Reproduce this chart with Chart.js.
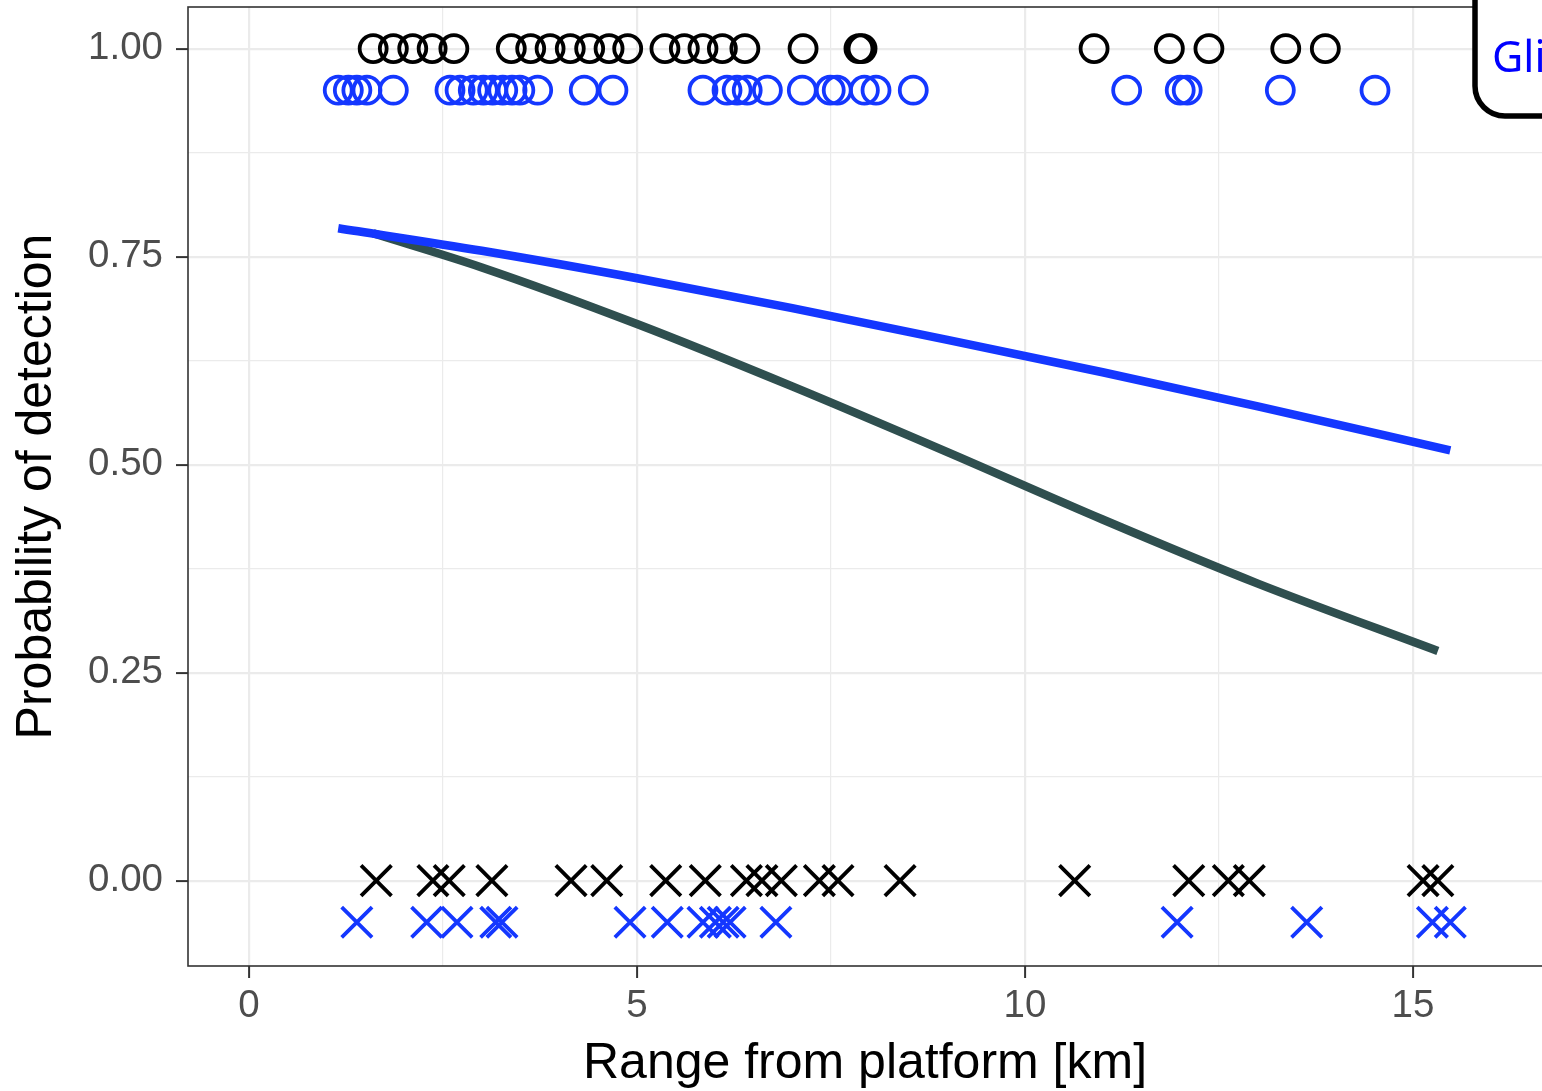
<!DOCTYPE html>
<html>
<head>
<meta charset="utf-8">
<script src="https://cdn.jsdelivr.net/npm/chart.js@4/dist/chart.umd.min.js"></script>
<style>
html,body{margin:0;padding:0;background:#fff;overflow:hidden}
#wrap{width:1542px;height:1091px;position:relative}
</style>
</head>
<body>
<div id="wrap"><canvas id="c" width="1542" height="1091"></canvas></div>
<script>
// ---- data ----
// Platform A (black): detected (1) and missed (0) ranges, km
const platformDetectedX = [1.60, 1.86, 2.11, 2.36, 2.64, 3.38, 3.63, 3.88, 4.14, 4.39, 4.64, 4.88, 5.36, 5.61, 5.85, 6.10, 6.39, 7.14, 7.86, 7.90, 10.89, 11.86, 12.37, 13.36, 13.87];
const platformMissedX   = [1.64, 2.37, 2.58, 3.13, 4.15, 4.61, 5.37, 5.88, 6.41, 6.61, 6.86, 7.35, 7.59, 8.39, 10.64, 12.11, 12.62, 12.89, 15.13, 15.32];
// Glider (blue): detected and missed ranges, km
const gliderDetectedX = [1.15, 1.28, 1.39, 1.52, 1.86, 2.59, 2.72, 2.89, 3.02, 3.14, 3.27, 3.39, 3.49, 3.72, 4.32, 4.69, 5.85, 6.16, 6.29, 6.42, 6.68, 7.13, 7.49, 7.58, 7.93, 8.08, 8.56, 11.31, 12.00, 12.09, 13.29, 14.51];
const gliderMissedX   = [1.39, 2.29, 2.68, 3.18, 3.26, 4.91, 5.39, 5.85, 6.01, 6.11, 6.20, 6.79, 11.96, 13.63, 15.25, 15.48];
// Row levels (detected = 1, missed = 0; glider rows drawn 0.05 lower)
const platformDetectedY = 1.00, platformMissedY = 0.00;
const gliderDetectedY = 0.95, gliderMissedY = -0.05;
// Fitted curves
const platformCurveX = [1.6, 3, 5, 7, 9, 11, 13, 15.32];
const platformCurveY = [0.778, 0.737, 0.669, 0.594, 0.515, 0.434, 0.357, 0.276];
const gliderCurveX = [1.15, 3, 5, 7, 9, 11, 13, 15.48];
const gliderCurveY = [0.784, 0.757, 0.724, 0.688, 0.650, 0.611, 0.570, 0.517];
// Axes
const xMajorTicks = [0, 5, 10, 15];
const xTickLabels = ['0', '5', '10', '15'];
const xMinorTicks = [2.5, 7.5, 12.5];
const yMajorTicks = [0, 0.25, 0.5, 0.75, 1];
const yTickLabels = ['0.00', '0.25', '0.50', '0.75', '1.00'];
const yMinorTicks = [0.125, 0.375, 0.625, 0.875];
const xTitle = 'Range from platform [km]';
const yTitle = 'Probability of detection';
const legendLabel = 'Glider';

// ---- styling ----
const BLACK = '#000000';
const BLUE = '#1437ff';
const DARK = '#2f4f4f';
const tickFont = {family: '"Liberation Sans", Arial, sans-serif', size: 38.5, lineHeight: 1.2};
const titleFont = {family: '"Liberation Sans", Arial, sans-serif', size: 50, lineHeight: 1.0};

const pts = (xs, y) => xs.map(x => ({x: x, y: y}));
const curve = (xs, ys) => xs.map((x, i) => ({x: x, y: ys[i]}));
const near = (a, b) => Math.abs(a - b) < 1e-6;
const isMajor = (list, v) => list.some(m => near(m, v));

const circleStyle = (c) => ({type: 'scatter', showLine: false, pointStyle: 'circle', pointRadius: 13.5, pointHoverRadius: 13.5, pointBorderWidth: 3.8, pointBorderColor: c, pointBackgroundColor: 'rgba(0,0,0,0)'});
const crossStyle = (c) => ({type: 'scatter', showLine: false, pointStyle: 'crossRot', pointRadius: 21.5, pointHoverRadius: 21.5, pointBorderWidth: 3.8, pointBorderColor: c, pointBackgroundColor: c});

const panelPlugin = {
  id: 'panel',
  afterDatasetsDraw(chart) {
    const a = chart.chartArea, ctx = chart.ctx;
    ctx.save();
    ctx.strokeStyle = '#333333';
    ctx.lineWidth = 1.6;
    ctx.strokeRect(a.left, a.top, a.right - a.left + 20, a.bottom - a.top);
    ctx.restore();
  },
  afterDraw(chart) {
    const ctx = chart.ctx;
    ctx.save();
    const x = 1475, y = -60, w = 240, h = 176, r = 30;
    ctx.beginPath();
    ctx.moveTo(x + r, y);
    ctx.lineTo(x + w, y);
    ctx.lineTo(x + w, y + h);
    ctx.lineTo(x + r, y + h);
    ctx.arcTo(x, y + h, x, y + h - r, r);
    ctx.lineTo(x, y);
    ctx.closePath();
    ctx.fillStyle = '#ffffff';
    ctx.fill();
    ctx.lineWidth = 5.5;
    ctx.strokeStyle = '#000000';
    ctx.stroke();
    ctx.fillStyle = '#0000ff';
    ctx.font = '43px "Noto Sans", sans-serif';
    ctx.textBaseline = 'alphabetic';
    ctx.fillText(legendLabel, 1492, 72);
    ctx.restore();
  }
};

new Chart(document.getElementById('c'), {
  data: {
    datasets: [
      Object.assign({label: 'Platform detected', data: pts(platformDetectedX, platformDetectedY)}, circleStyle(BLACK)),
      Object.assign({label: 'Glider detected', data: pts(gliderDetectedX, gliderDetectedY)}, circleStyle(BLUE)),
      Object.assign({label: 'Platform missed', data: pts(platformMissedX, platformMissedY)}, crossStyle(BLACK)),
      Object.assign({label: 'Glider missed', data: pts(gliderMissedX, gliderMissedY)}, crossStyle(BLUE)),
      {type: 'line', label: 'Glider fit', data: curve(gliderCurveX, gliderCurveY), borderColor: BLUE, borderWidth: 8.5, pointRadius: 0, fill: false, cubicInterpolationMode: 'monotone', borderCapStyle: 'butt'},
      {type: 'line', label: 'Platform fit', data: curve(platformCurveX, platformCurveY), borderColor: DARK, borderWidth: 8.5, pointRadius: 0, fill: false, cubicInterpolationMode: 'monotone', borderCapStyle: 'butt'}
    ]
  },
  options: {
    responsive: false,
    animation: false,
    devicePixelRatio: 1,
    layout: {autoPadding: false, padding: {top: 7, left: 0, right: 0, bottom: 0}},
    plugins: {legend: {display: false}, tooltip: {enabled: false}},
    scales: {
      x: {
        type: 'linear', min: -0.786, max: 16.662,
        afterBuildTicks: s => { s.ticks = xMajorTicks.concat(xMinorTicks).sort((a, b) => a - b).map(v => ({value: v})); },
        afterFit: s => { s.height = 125; s.paddingLeft = 0; s.paddingRight = 0; },
        ticks: {
          autoSkip: false, maxRotation: 0, minRotation: 0, padding: 5, color: '#4d4d4d', font: tickFont,
          callback: v => { const i = xMajorTicks.findIndex(m => near(m, v)); return i >= 0 ? xTickLabels[i] : ''; }
        },
        grid: {
          color: '#ebebeb',
          lineWidth: c => isMajor(xMajorTicks, c.tick.value) ? 2.2 : 1.2,
          tickLength: 12,
          tickWidth: 2,
          tickColor: c => isMajor(xMajorTicks, c.tick.value) ? '#333333' : 'rgba(0,0,0,0)'
        },
        border: {display: false},
        title: {display: true, text: xTitle, color: '#000000', font: titleFont, padding: {top: 0, bottom: 2}}
      },
      y: {
        type: 'linear', min: -0.1026, max: 1.05,
        afterBuildTicks: s => { s.ticks = yMajorTicks.concat(yMinorTicks).sort((a, b) => a - b).map(v => ({value: v})); },
        afterFit: s => { s.width = 188; s.paddingTop = 0; s.paddingBottom = 0; },
        ticks: {
          autoSkip: false, padding: 13, color: '#4d4d4d', font: tickFont,
          callback: v => { const i = yMajorTicks.findIndex(m => near(m, v)); return i >= 0 ? yTickLabels[i] : ''; }
        },
        grid: {
          color: '#ebebeb',
          lineWidth: c => isMajor(yMajorTicks, c.tick.value) ? 2.2 : 1.2,
          tickLength: 12,
          tickWidth: 2,
          tickColor: c => isMajor(yMajorTicks, c.tick.value) ? '#333333' : 'rgba(0,0,0,0)'
        },
        border: {display: false},
        title: {display: true, text: yTitle, color: '#000000', font: titleFont, padding: {top: 12, bottom: 0}}
      }
    }
  },
  plugins: [panelPlugin]
});
</script>
</body>
</html>
